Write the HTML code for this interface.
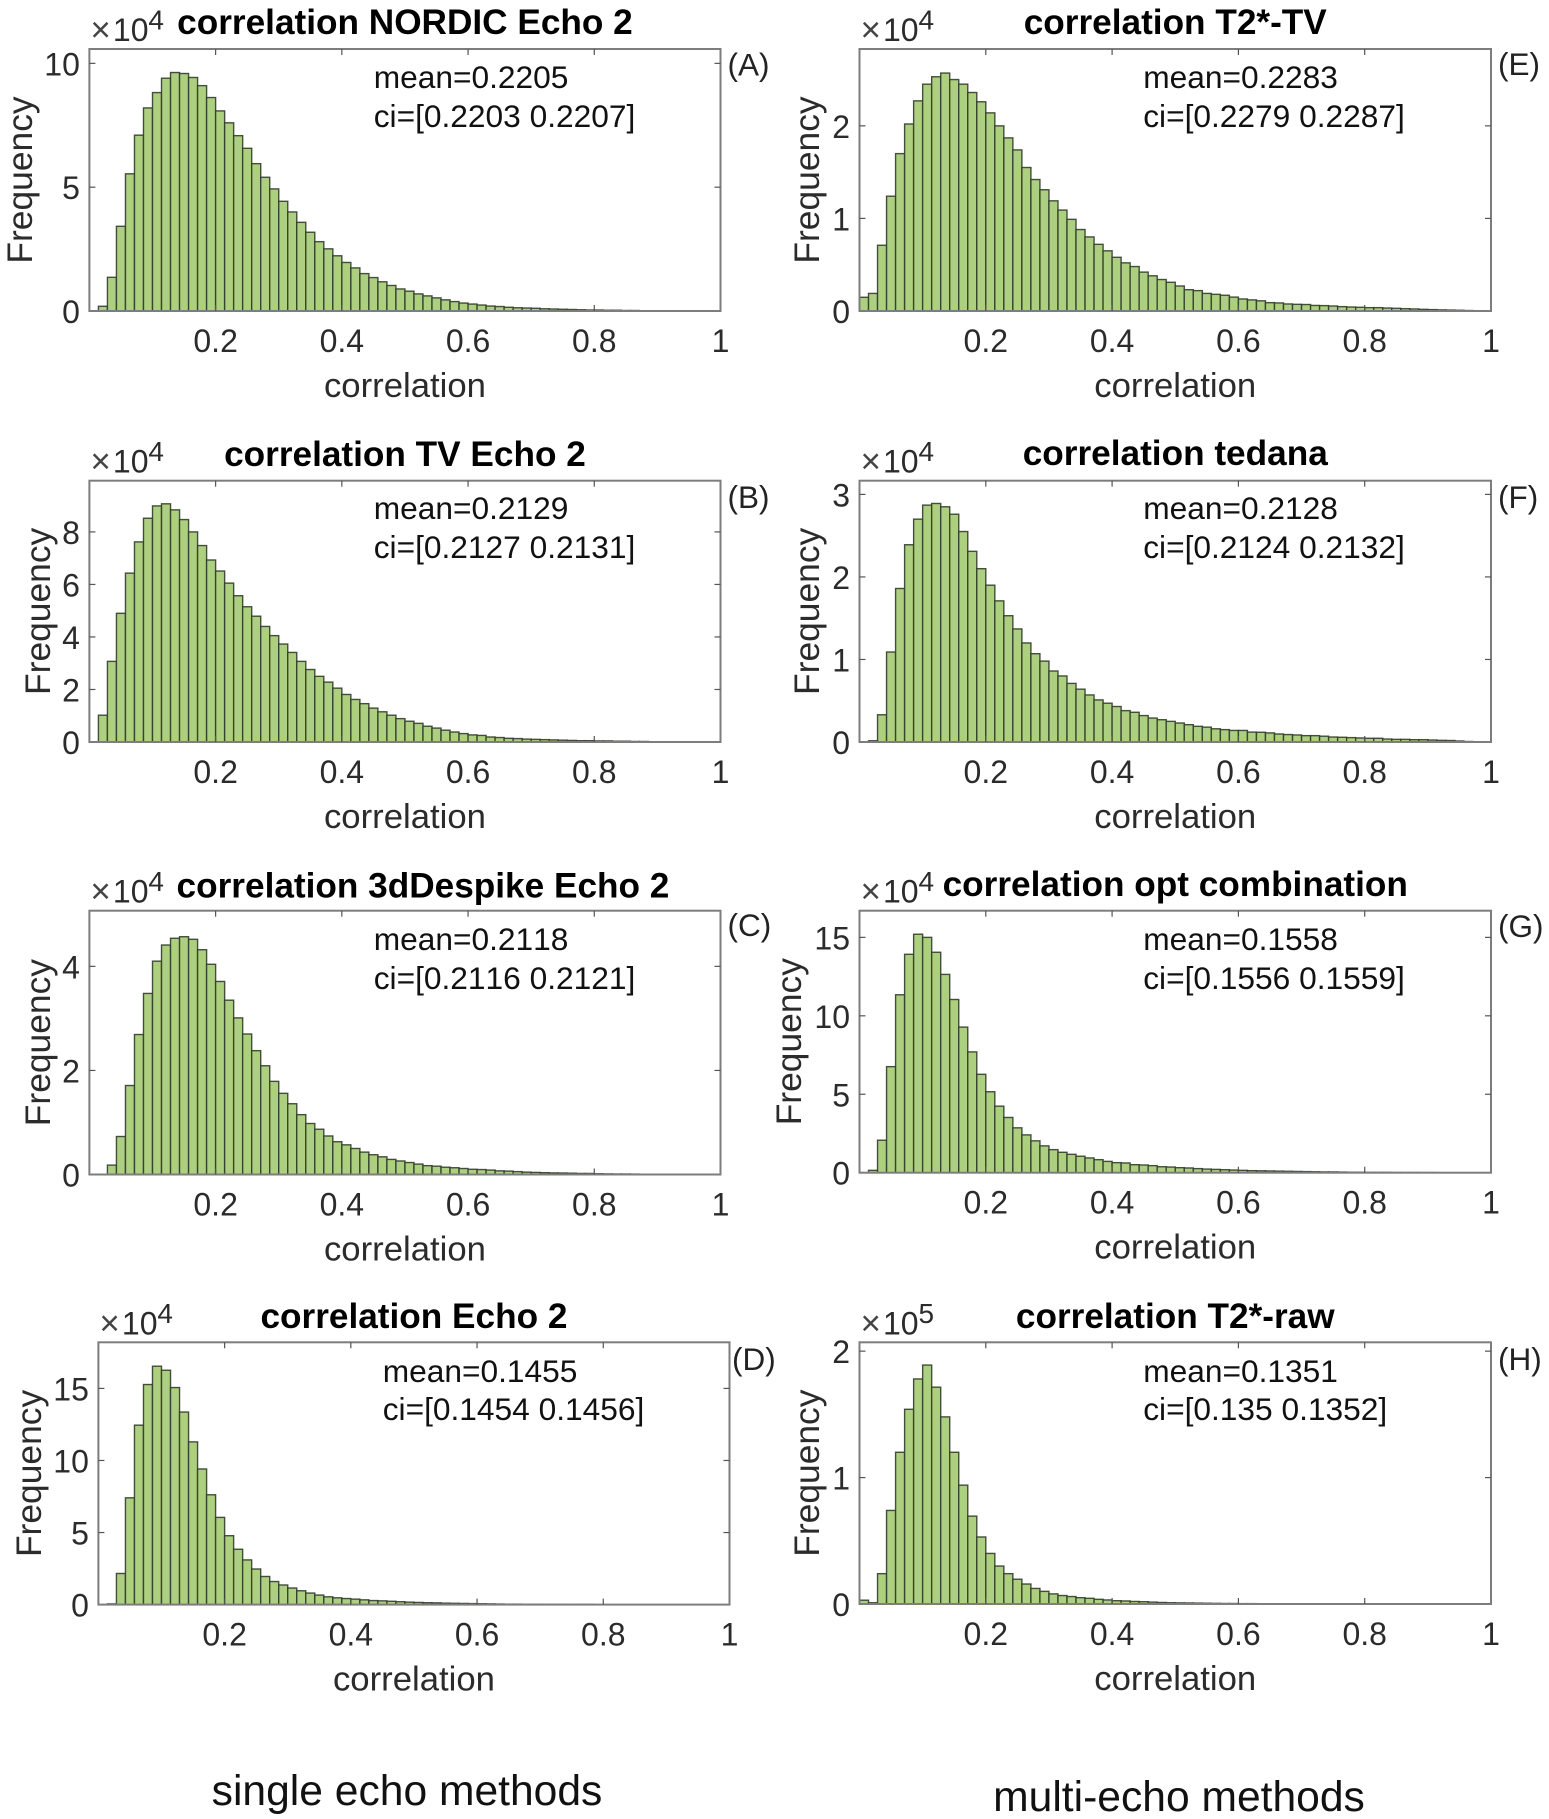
<!DOCTYPE html>
<html lang="en">
<head>
<meta charset="utf-8">
<title>Correlation histograms</title>
<style>
  html,body{margin:0;padding:0;background:#fff;}
  svg{display:block;font-family:"Liberation Sans",Arial,sans-serif;font-kerning:none;}
</style>
</head>
<body>
<svg id="figure" xmlns="http://www.w3.org/2000/svg" width="1549" height="1819" viewBox="0 0 1549 1819"></svg>
<script>
// Shared axis data
const xTicks = [0.2, 0.4, 0.6, 0.8, 1];
const xTickLabels = ["0.2", "0.4", "0.6", "0.8", "1"];
const binCount = 70;

// Frequencies per bin, in units of the panel's axis multiplier
const valuesA = [0,0.19,1.36,3.42,5.54,7.1,8.2,8.82,9.4,9.63,9.59,9.43,9.1,8.62,8.08,7.6,7.08,6.57,5.95,5.4,4.93,4.43,4.0,3.58,3.18,2.8,2.51,2.23,1.96,1.74,1.51,1.35,1.18,1.03,0.89,0.8,0.69,0.61,0.53,0.45,0.38,0.32,0.28,0.24,0.2,0.18,0.15,0.13,0.12,0.11,0.09,0.08,0.07,0.06,0.05,0.04,0.04,0.03,0.03,0.02,0.02,0.01,0.01,0.01,0.01,0.005,0.003,0,0,0];
const valuesB = [0,1.02,3.07,4.9,6.43,7.62,8.52,8.99,9.07,8.84,8.47,8.0,7.48,6.93,6.51,6.05,5.57,5.15,4.79,4.4,4.05,3.73,3.41,3.07,2.76,2.5,2.28,2.05,1.81,1.62,1.46,1.29,1.15,1.02,0.89,0.79,0.71,0.6,0.53,0.45,0.38,0.32,0.27,0.25,0.19,0.17,0.14,0.13,0.11,0.1,0.09,0.08,0.07,0.06,0.05,0.05,0.04,0.04,0.03,0.03,0.02,0.02,0.01,0.01,0.01,0.01,0.005,0.003,0,0];
const valuesC = [0,0.005,0.18,0.73,1.71,2.69,3.48,4.1,4.41,4.54,4.57,4.52,4.32,4.04,3.71,3.35,3.01,2.7,2.38,2.09,1.79,1.56,1.36,1.15,0.98,0.87,0.74,0.63,0.57,0.5,0.43,0.38,0.34,0.29,0.26,0.23,0.2,0.17,0.16,0.14,0.13,0.115,0.1,0.095,0.085,0.07,0.065,0.055,0.045,0.04,0.035,0.03,0.028,0.025,0.02,0.02,0.015,0.012,0.01,0.01,0.008,0.006,0.005,0.004,0.003,0.002,0.001,0,0,0];
const valuesD = [0,0.05,2.16,7.41,12.45,15.27,16.54,16.26,15.06,13.36,11.29,9.41,7.62,6.05,4.78,3.84,3.1,2.47,1.95,1.6,1.36,1.15,0.96,0.8,0.66,0.54,0.47,0.42,0.38,0.33,0.28,0.26,0.23,0.2,0.17,0.15,0.13,0.12,0.1,0.09,0.08,0.07,0.06,0.05,0.04,0.03,0.03,0.02,0.02,0.02,0.01,0.01,0.01,0.01,0.01,0,0,0,0,0,0,0,0,0,0,0,0,0,0,0];
const valuesE = [0.148,0.19,0.71,1.24,1.7,2.02,2.27,2.45,2.53,2.57,2.5,2.45,2.36,2.26,2.14,2.0,1.87,1.74,1.55,1.42,1.31,1.19,1.09,0.99,0.88,0.8,0.72,0.65,0.58,0.52,0.48,0.42,0.38,0.34,0.31,0.27,0.23,0.22,0.19,0.18,0.17,0.15,0.13,0.12,0.11,0.09,0.087,0.076,0.072,0.07,0.06,0.058,0.054,0.047,0.043,0.04,0.036,0.036,0.032,0.029,0.025,0.022,0.018,0.015,0.012,0.01,0.008,0.005,0.002,0];
const valuesF = [0,0.015,0.33,1.09,1.86,2.39,2.7,2.87,2.89,2.85,2.76,2.55,2.31,2.1,1.9,1.71,1.53,1.37,1.2,1.07,0.98,0.86,0.8,0.71,0.64,0.57,0.51,0.47,0.43,0.38,0.36,0.32,0.29,0.27,0.25,0.23,0.21,0.19,0.18,0.16,0.15,0.14,0.14,0.12,0.118,0.11,0.097,0.09,0.085,0.077,0.077,0.07,0.06,0.057,0.053,0.049,0.045,0.045,0.036,0.032,0.032,0.028,0.028,0.024,0.02,0.018,0.012,0.006,0.002,0];
const valuesG = [0,0.15,2.07,6.76,11.34,13.92,15.2,15.0,14.05,12.64,11.04,9.28,7.7,6.27,5.16,4.24,3.52,2.86,2.41,2.03,1.71,1.47,1.3,1.17,1.05,0.94,0.83,0.72,0.64,0.62,0.51,0.49,0.45,0.38,0.36,0.32,0.3,0.26,0.23,0.21,0.19,0.17,0.15,0.13,0.12,0.11,0.1,0.09,0.08,0.07,0.06,0.05,0.05,0.04,0.03,0.03,0.02,0.02,0.02,0.01,0.01,0.01,0.005,0.005,0,0,0,0,0,0];
const valuesH = [0.03,0.01,0.24,0.74,1.2,1.54,1.78,1.89,1.715,1.48,1.2,0.94,0.695,0.53,0.4,0.3,0.24,0.196,0.158,0.123,0.1,0.08,0.067,0.059,0.05,0.045,0.037,0.032,0.026,0.024,0.02,0.018,0.015,0.012,0.01,0.009,0.008,0.007,0.006,0.005,0.004,0.004,0.003,0.003,0.002,0.002,0.001,0.001,0.001,0,0,0,0,0,0,0,0,0,0,0,0,0,0,0,0,0,0,0,0,0];

// Y tick values per panel
const yTicksA = [0, 5, 10];
const yTicksB = [0, 2, 4, 6, 8];
const yTicksC = [0, 2, 4];
const yTicksD = [0, 5, 10, 15];
const yTicksE = [0, 1, 2];
const yTicksF = [0, 1, 2, 3];
const yTicksG = [0, 5, 10, 15];
const yTicksH = [0, 1, 2];

const panels = [
  {id:"a", letter:"(A)", title:"correlation NORDIC Echo 2", mean:"mean=0.2205", ci:"ci=[0.2203 0.2207]", exp:"4", values:valuesA, yTicks:yTicksA, yMax:10.58, left:89.4, right:720.5, top:49, bottom:311, titleY:34, titleDx:0, annoX:373.7, annoY:88, ciY:127, freqX:32, letterX:727.5, letterY:75.5},
  {id:"b", letter:"(B)", title:"correlation TV Echo 2", mean:"mean=0.2129", ci:"ci=[0.2127 0.2131]", exp:"4", values:valuesB, yTicks:yTicksB, yMax:9.95, left:89.4, right:720.5, top:480.7, bottom:742, titleY:466, titleDx:0, annoX:373.7, annoY:519, ciY:558, freqX:50, letterX:727.5, letterY:508},
  {id:"c", letter:"(C)", title:"correlation 3dDespike Echo 2", mean:"mean=0.2118", ci:"ci=[0.2116 0.2121]", exp:"4", values:valuesC, yTicks:yTicksC, yMax:5.07, left:89.4, right:720.5, top:910.7, bottom:1174.5, titleY:897.7, titleDx:18, annoX:373.7, annoY:950, ciY:989, freqX:50, letterX:727.5, letterY:936},
  {id:"d", letter:"(D)", title:"correlation Echo 2", mean:"mean=0.1455", ci:"ci=[0.1454 0.1456]", exp:"4", values:valuesD, yTicks:yTicksD, yMax:18.2, left:98.4, right:729.5, top:1342.3, bottom:1604.6, titleY:1328, titleDx:0, annoX:382.7, annoY:1382, ciY:1420, freqX:41, letterX:732, letterY:1370},
  {id:"e", letter:"(E)", title:"correlation T2*-TV", mean:"mean=0.2283", ci:"ci=[0.2279 0.2287]", exp:"4", values:valuesE, yTicks:yTicksE, yMax:2.83, left:859.5, right:1491, top:49, bottom:311, titleY:34, titleDx:0, annoX:1143.2, annoY:88, ciY:127, freqX:819, letterX:1498, letterY:75},
  {id:"f", letter:"(F)", title:"correlation tedana", mean:"mean=0.2128", ci:"ci=[0.2124 0.2132]", exp:"4", values:valuesF, yTicks:yTicksF, yMax:3.166, left:859.5, right:1491, top:480.7, bottom:742, titleY:465, titleDx:0, annoX:1143.2, annoY:519, ciY:558, freqX:819, letterX:1498, letterY:508},
  {id:"g", letter:"(G)", title:"correlation opt combination", mean:"mean=0.1558", ci:"ci=[0.1556 0.1559]", exp:"4", values:valuesG, yTicks:yTicksG, yMax:16.7, left:859.5, right:1491, top:910.7, bottom:1172.7, titleY:896, titleDx:0, annoX:1143.2, annoY:950, ciY:989, freqX:801, letterX:1498, letterY:937},
  {id:"h", letter:"(H)", title:"correlation T2*-raw", mean:"mean=0.1351", ci:"ci=[0.135 0.1352]", exp:"5", values:valuesH, yTicks:yTicksH, yMax:2.07, left:859.5, right:1491, top:1342.3, bottom:1604, titleY:1328, titleDx:0, annoX:1143.2, annoY:1382, ciY:1420, freqX:819, letterX:1498, letterY:1370}
];

const NS = "http://www.w3.org/2000/svg";
const figure = document.getElementById("figure");

function makeText(parent, x, y, str, size, fill, anchor, weight) {
  const t = document.createElementNS(NS, "text");
  t.setAttribute("x", x);
  t.setAttribute("y", y);
  t.setAttribute("font-size", size);
  t.setAttribute("fill", fill);
  t.setAttribute("text-anchor", anchor || "start");
  if (weight) t.setAttribute("font-weight", weight);
  t.textContent = str;
  parent.appendChild(t);
  return t;
}

function makeLine(parent, x1, y1, x2, y2, stroke, width) {
  const l = document.createElementNS(NS, "line");
  l.setAttribute("x1", x1);
  l.setAttribute("y1", y1);
  l.setAttribute("x2", x2);
  l.setAttribute("y2", y2);
  l.setAttribute("stroke", stroke);
  l.setAttribute("stroke-width", width);
  parent.appendChild(l);
  return l;
}

panels.forEach(function (p) {
  const xScale = function (v) { return p.left + v * (p.right - p.left); };
  const yScale = function (v) { return p.bottom - (v / p.yMax) * (p.bottom - p.top); };

  const g = document.createElementNS(NS, "g");
  
  
  figure.appendChild(g);

  // Bars
  const barGroup = document.createElementNS(NS, "g");
  
  
  g.appendChild(barGroup);
  p.values.forEach(function (v, i) {
    if (v <= 0) return;
    const x0 = xScale(i / binCount);
    const x1 = xScale((i + 1) / binCount);
    const r = document.createElementNS(NS, "rect");
    
    
    r.setAttribute("x", x0);
    r.setAttribute("y", yScale(v));
    r.setAttribute("width", x1 - x0);
    r.setAttribute("height", p.bottom - yScale(v));
    r.setAttribute("fill", "#acd080");
    r.setAttribute("stroke", "#333d2b");
    r.setAttribute("stroke-opacity", "0.9");
    r.setAttribute("stroke-width", "1.4");
    barGroup.appendChild(r);
  });

  // Axes box
  const box = document.createElementNS(NS, "rect");
  
  
  box.setAttribute("x", p.left);
  box.setAttribute("y", p.top);
  box.setAttribute("width", p.right - p.left);
  box.setAttribute("height", p.bottom - p.top);
  box.setAttribute("fill", "none");
  box.setAttribute("stroke", "#7d7d7d");
  box.setAttribute("stroke-width", "2");
  g.appendChild(box);

  // X ticks and labels
  xTicks.forEach(function (v, i) {
    const x = xScale(v);
    if (v < 1) {
      const t1 = makeLine(g, x, p.bottom, x, p.bottom - 6, "#555", 1.2);
      
      
      const t2 = makeLine(g, x, p.top, x, p.top + 6, "#555", 1.2);
      
      
    }
    const lbl = makeText(g, x, p.bottom + 41, xTickLabels[i], 32, "#2b2b2b", "middle");
    
    
  });

  // Y ticks and labels
  p.yTicks.forEach(function (v) {
    const y = yScale(v);
    if (v > 0) {
      const t1 = makeLine(g, p.left, y, p.left + 6, y, "#555", 1.2);
      
      
      const t2 = makeLine(g, p.right, y, p.right - 6, y, "#555", 1.2);
      
      
    }
    const lbl = makeText(g, p.left - 9.5, y + 12, String(v), 32, "#2b2b2b", "end");
    
    
  });

  // Axis labels
  const cx = (p.left + p.right) / 2;
  const cy = (p.top + p.bottom) / 2;
  const xl = makeText(g, cx, p.bottom + 86, "correlation", 34.7, "#2b2b2b", "middle");
  
  
  const yl = makeText(g, p.freqX, cy, "Frequency", 35.4, "#2b2b2b", "middle");
  yl.setAttribute("transform", "rotate(-90 " + p.freqX + " " + cy + ")");
  
  

  // Title
  const ti = makeText(g, cx + p.titleDx, p.titleY, p.title, 35.2, "#000", "middle", "bold");
  
  

  // Multiplier
  const mul = makeText(g, p.left + 1, p.top - 7.5, "×", 35, "#444");
  
  
  const ten = makeText(g, p.left + 23.5, p.top - 8, "10", 32, "#2b2b2b");
  
  
  const exp = makeText(g, p.left + 59, p.top - 19.5, p.exp, 28, "#2b2b2b");
  
  

  // Annotations
  const mean = makeText(g, p.annoX, p.annoY, p.mean, 31.7, "#111");
  
  
  const ci = makeText(g, p.annoX, p.ciY, p.ci, 31.7, "#111");
  
  

  // Panel letter
  const letter = makeText(g, p.letterX, p.letterY, p.letter, 31.5, "#222");
  
  
});

const leftCaption = makeText(figure, 407, 1805, "single echo methods", 42.6, "#111", "middle");


const rightCaption = makeText(figure, 1179, 1811, "multi-echo methods", 42.6, "#111", "middle");


</script>
</body>
</html>
